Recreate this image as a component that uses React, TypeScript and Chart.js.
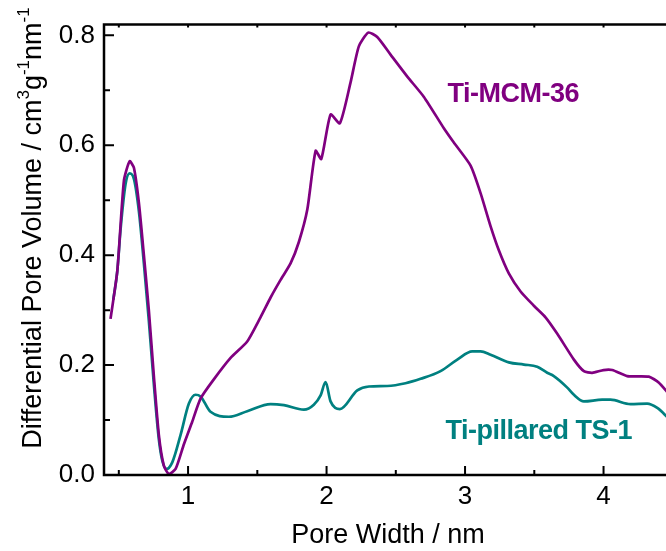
import React, { useEffect, useRef } from 'react';
import { Chart, registerables } from 'chart.js';
Chart.register(...registerables);

// Ti-MCM-36 (purple)
const mcmX = [0.44, 0.489, 0.537, 0.578, 0.609, 0.645, 0.681, 0.717, 0.753, 0.789, 0.825, 0.861, 0.91, 0.97, 1.03, 1.09, 1.186, 1.307, 1.427, 1.523, 1.596, 1.668, 1.74, 1.8, 1.861, 1.921, 1.962, 2.029, 2.096, 2.173, 2.233, 2.301, 2.366, 2.462, 2.583, 2.703, 2.847, 2.919, 3.04, 3.112, 3.184, 3.244, 3.316, 3.401, 3.497, 3.581, 3.666, 3.786, 3.858, 3.918, 4.0, 4.063, 4.171, 4.327, 4.4, 4.47];
const mcmY = [0.284, 0.371, 0.536, 0.571, 0.559, 0.495, 0.4, 0.299, 0.18, 0.073, 0.017, 0.002, 0.011, 0.056, 0.097, 0.139, 0.174, 0.213, 0.243, 0.287, 0.323, 0.355, 0.385, 0.424, 0.483, 0.59, 0.575, 0.656, 0.64, 0.714, 0.78, 0.805, 0.797, 0.765, 0.725, 0.688, 0.631, 0.605, 0.563, 0.513, 0.453, 0.409, 0.367, 0.334, 0.308, 0.287, 0.257, 0.21, 0.189, 0.186, 0.191, 0.191, 0.18, 0.179, 0.168, 0.148];

// Ti-pillared TS-1 (teal)
const tsX = [0.46, 0.489, 0.513, 0.549, 0.578, 0.609, 0.645, 0.681, 0.717, 0.753, 0.789, 0.814, 0.845, 0.886, 0.946, 1.006, 1.054, 1.09, 1.162, 1.295, 1.427, 1.596, 1.692, 1.836, 1.908, 1.957, 1.993, 2.029, 2.096, 2.222, 2.306, 2.438, 2.57, 2.679, 2.823, 2.944, 3.052, 3.112, 3.184, 3.316, 3.425, 3.521, 3.593, 3.641, 3.738, 3.786, 3.858, 3.99, 4.05, 4.195, 4.315, 4.388, 4.47];
const tsY = [0.319, 0.371, 0.448, 0.53, 0.549, 0.539, 0.48, 0.385, 0.28, 0.165, 0.065, 0.026, 0.011, 0.023, 0.073, 0.13, 0.146, 0.143, 0.115, 0.106, 0.116, 0.129, 0.127, 0.119, 0.128, 0.145, 0.169, 0.134, 0.12, 0.154, 0.161, 0.162, 0.167, 0.175, 0.189, 0.21, 0.225, 0.225, 0.219, 0.205, 0.201, 0.197, 0.186, 0.18, 0.159, 0.146, 0.134, 0.137, 0.137, 0.129, 0.13, 0.122, 0.103];

const xMajorTicks = [1, 2, 3, 4];
const xMinorTicks = [0.5, 1.5, 2.5, 3.5, 4.5];
const yMajorTicks = [0, 0.2, 0.4, 0.6, 0.8];
const yMinorTicks = [0.1, 0.3, 0.5, 0.7];

const seriesNames = ['Ti-MCM-36', 'Ti-pillared TS-1'];
const seriesColors = ['#800080', '#008080'];
const labelAnchorX = [2.874, 2.859];
const labelAnchorY = [0.679, 0.065];

const xTitle = 'Pore Width / nm';
const yTitleParts: [string, boolean][] = [
  ['Differential Pore Volume / cm', false],
  ['3', true],
  ['g', false],
  ['-1', true],
  ['nm', false],
  ['-1', true],
];

const FONT = '"Liberation Sans", Arial, sans-serif';

export default function App() {
  const ref = useRef<HTMLCanvasElement | null>(null);
  useEffect(() => {
    if (!ref.current) return;
    const decor = {
      id: 'decor',
      afterDraw(chart: any) {
        const { ctx, chartArea } = chart;
        const { left, right, top, bottom } = chartArea;
        const xs = chart.scales.x;
        const ys = chart.scales.y;
        ctx.save();
        ctx.strokeStyle = '#000';
        ctx.lineWidth = 2.5;
        ctx.lineCap = 'square';
        ctx.beginPath();
        ctx.moveTo(right + 5, top);
        ctx.lineTo(left, top);
        ctx.lineTo(left, bottom);
        ctx.lineTo(right + 5, bottom);
        ctx.stroke();
        ctx.lineCap = 'butt';
        ctx.lineWidth = 2;
        ctx.beginPath();
        xMajorTicks.forEach((v) => {
          const px = xs.getPixelForValue(v);
          ctx.moveTo(px, bottom);
          ctx.lineTo(px, bottom - 9);
          ctx.moveTo(px, top);
          ctx.lineTo(px, top + 3);
        });
        xMinorTicks.forEach((v) => {
          const px = xs.getPixelForValue(v);
          if (px < left || px > right) return;
          ctx.moveTo(px, bottom);
          ctx.lineTo(px, bottom - 5);
          ctx.moveTo(px, top);
          ctx.lineTo(px, top + 3);
        });
        yMajorTicks.forEach((v) => {
          const py = ys.getPixelForValue(v);
          ctx.moveTo(left, py);
          ctx.lineTo(left + 10, py);
        });
        yMinorTicks.forEach((v) => {
          const py = ys.getPixelForValue(v);
          ctx.moveTo(left, py);
          ctx.lineTo(left + 6, py);
        });
        ctx.stroke();

        // series labels
        ctx.font = 'bold 27px ' + FONT;
        (ctx as any).letterSpacing = '-0.5px';
        ctx.textAlign = 'left';
        ctx.textBaseline = 'alphabetic';
        seriesNames.forEach((n, i) => {
          ctx.fillStyle = seriesColors[i];
          ctx.fillText(n, xs.getPixelForValue(labelAnchorX[i]), ys.getPixelForValue(labelAnchorY[i]));
        });
        (ctx as any).letterSpacing = '0px';

        // x title
        ctx.fillStyle = '#000';
        ctx.font = '27px ' + FONT;
        ctx.textAlign = 'center';
        ctx.fillText(xTitle, 388, 543);

        // y title with superscripts
        ctx.translate(41, 228);
        ctx.rotate(-Math.PI / 2);
        const mainFont = '27px ' + FONT;
        const supFont = '17px ' + FONT;
        let total = 0;
        yTitleParts.forEach(([t, sup]) => {
          ctx.font = sup ? supFont : mainFont;
          total += ctx.measureText(t).width;
        });
        let cx = -total / 2;
        ctx.textAlign = 'left';
        yTitleParts.forEach(([t, sup]) => {
          ctx.font = sup ? supFont : mainFont;
          ctx.fillText(t, cx, sup ? -12 : 0);
          cx += ctx.measureText(t).width;
        });
        ctx.restore();
      },
    };

    const chart = new Chart(ref.current, {
      type: 'line',
      data: {
        datasets: [
          {
            label: seriesNames[0],
            data: mcmX.map((x, i) => ({ x, y: mcmY[i] })),
            borderColor: seriesColors[0],
            borderWidth: 2.7,
            pointRadius: 0,
            tension: 0.2,
            fill: false,
          },
          {
            label: seriesNames[1],
            data: tsX.map((x, i) => ({ x, y: tsY[i] })),
            borderColor: seriesColors[1],
            borderWidth: 2.7,
            pointRadius: 0,
            cubicInterpolationMode: 'monotone',
            fill: false,
          },
        ],
      },
      options: {
        animation: false,
        responsive: false,
        layout: { padding: { top: 14, left: 0, right: 0, bottom: 0 } },
        plugins: { legend: { display: false }, tooltip: { enabled: false } },
        scales: {
          x: {
            type: 'linear',
            min: 0.393,
            max: 4.451,
            grid: { display: false, drawTicks: false },
            border: { display: false },
            afterBuildTicks: (s: any) => {
              s.ticks = xMajorTicks.map((v) => ({ value: v }));
            },
            afterFit: (s: any) => {
              s.height = 76;
            },
            ticks: {
              padding: 6,
              color: '#000',
              font: { family: FONT, size: 26 },
              maxRotation: 0,
              autoSkip: false,
              callback: (v: any) => String(v),
            },
          },
          y: {
            type: 'linear',
            min: 0,
            max: 0.8196,
            grid: { display: false, drawTicks: false },
            border: { display: false },
            afterBuildTicks: (s: any) => {
              s.ticks = yMajorTicks.map((v) => ({ value: v }));
            },
            afterFit: (s: any) => {
              s.width = 104;
            },
            ticks: {
              padding: 9,
              color: '#000',
              font: { family: FONT, size: 26 },
              autoSkip: false,
              callback: (v: any) => Number(v).toFixed(1),
            },
          },
        },
      },
      plugins: [decor],
    });
    return () => chart.destroy();
  }, []);

  return (
    <div style={{ position: 'fixed', left: 0, top: 0, width: 666, height: 551, background: '#fff' }}>
      <canvas ref={ref} width={666} height={551} style={{ display: 'block' }} />
    </div>
  );
}
